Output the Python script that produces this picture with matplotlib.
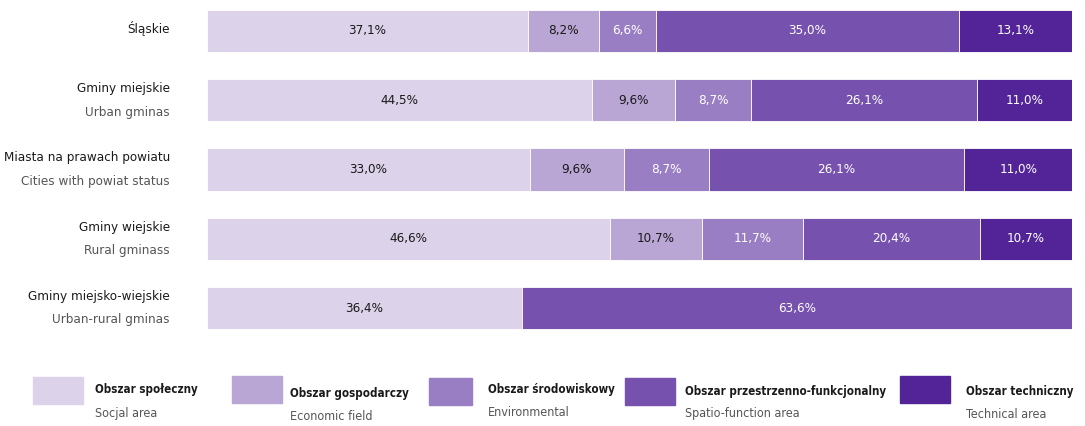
import numpy as np
import matplotlib.pyplot as plt
from matplotlib.font_manager import fontManager

# pick a condensed face if one is installed, else a narrower regular one
cond = [f for f in fontManager.ttflist
        if 'Condensed' in f.name or 'Narrow' in f.name or f.stretch in ('condensed', 'semi-condensed')]
if cond:
    fam, stretch, scale = cond[0].name, cond[0].stretch, 1.0
else:
    fam, stretch, scale = 'Roboto', 'normal', 0.9
plt.rcParams['font.family'] = [fam, 'DejaVu Sans']
plt.rcParams['font.stretch'] = stretch

# Data
rows_pl = ["Śląskie", "Gminy miejskie", "Miasta na prawach powiatu",
           "Gminy wiejskie", "Gminy miejsko-wiejskie"]
rows_en = ["", "Urban gminas", "Cities with powiat status",
           "Rural gminass", "Urban-rural gminas"]
social = [37.1, 44.5, 33.0, 46.6, 36.4]
economic = [8.2, 9.6, 9.6, 10.7, 0.0]
environmental = [6.6, 8.7, 8.7, 11.7, 0.0]
spatial = [35.0, 26.1, 26.1, 20.4, 63.6]
technical = [13.1, 11.0, 11.0, 10.7, 0.0]

series_pl = ["Obszar społeczny", "Obszar gospodarczy", "Obszar środowiskowy",
             "Obszar przestrzenno-funkcjonalny", "Obszar techniczny"]
series_en = ["Socjal area", "Economic field", "Environmental",
             "Spatio-function area", "Technical area"]
colors = ["#dcd2ea", "#b9a6d5", "#9a7ec3", "#7651ad", "#522497"]
text_colors = ["#1a1a1a", "#1a1a1a", "white", "white", "white"]

fs = 9.6 * scale
W, H = 1085, 426
fig = plt.figure(figsize=(W / 100, H / 100), dpi=100)

# bar area in pixel terms
ax = fig.add_axes([207 / W, 1 - 340 / H, 865 / W, 340 / H])
row0, step = 31, 69.3
ax.set_ylim((340 - row0) / step, -row0 / step)

data = np.array([social, economic, environmental, spatial, technical])
shares = data / data.sum(axis=0) * 100
ypos = np.arange(len(rows_pl))
left = np.zeros(len(rows_pl))
for k in range(len(series_pl)):
    ax.barh(ypos, shares[k], left=left, height=0.61, color=colors[k],
            edgecolor='white', linewidth=0.6)
    for i in ypos:
        if data[k, i] > 0:
            ax.text(left[i] + shares[k, i] / 2, i, f"{data[k, i]:.1f}%".replace('.', ','),
                    ha='center', va='center', fontsize=fs, color=text_colors[k])
    left += shares[k]

ax.set_xlim(0, 100)
ax.axis('off')

# category labels
for i in ypos:
    if rows_en[i]:
        ax.text(-4.3, i - 0.17, rows_pl[i], ha='right', va='center', fontsize=fs, color='#1a1a1a')
        ax.text(-4.3, i + 0.17, rows_en[i], ha='right', va='center', fontsize=fs, color='#555555')
    else:
        ax.text(-4.3, i - 0.04, rows_pl[i], ha='right', va='center', fontsize=fs, color='#1a1a1a')

# legend
box_x = [33, 232, 429, 625, 900]
box_w = [50, 50, 43, 50, 50]
box_y = [377, 376, 378, 378, 376]
txt_x = [95, 290, 488, 685, 966]
txt_y = [390, 393, 390, 391, 391]
for k in range(len(series_pl)):
    fig.patches.append(plt.Rectangle((box_x[k] / W, 1 - (box_y[k] + 27) / H), box_w[k] / W, 27 / H,
                                     transform=fig.transFigure, color=colors[k]))
    fig.text(txt_x[k] / W, 1 - txt_y[k] / H, series_pl[k], ha='left', va='center',
             fontsize=8.3 * scale, fontweight='bold', color='#1a1a1a')
    fig.text(txt_x[k] / W, 1 - (txt_y[k] + 23) / H, series_en[k], ha='left', va='center',
             fontsize=9.0 * scale, color='#555555')

fig.savefig("out.png", dpi=100)
